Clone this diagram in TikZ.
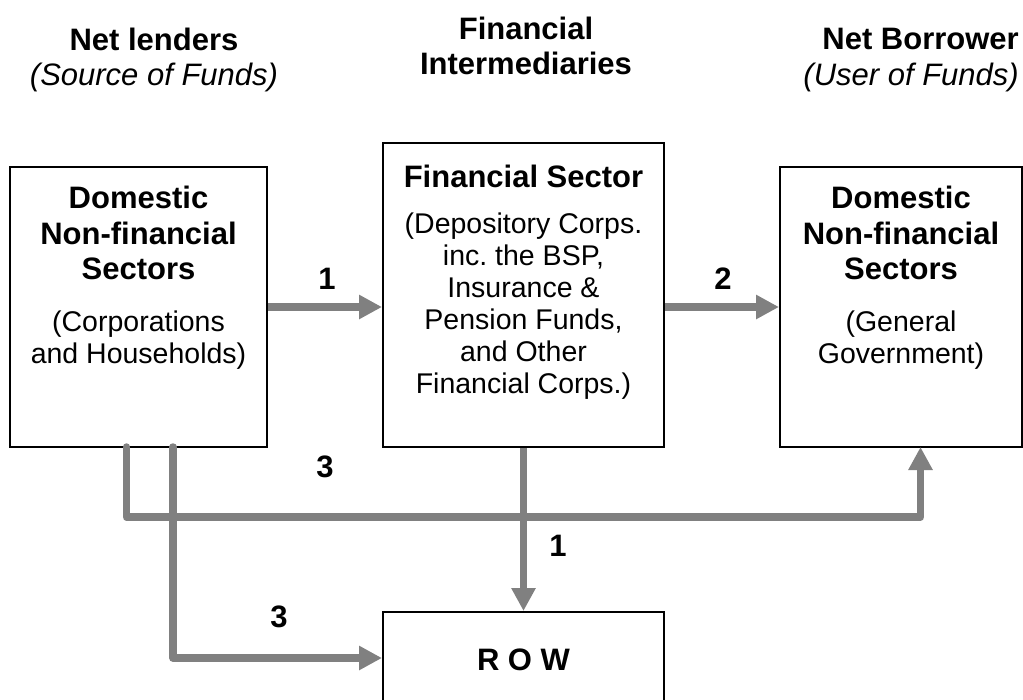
\documentclass[tikz,border=0pt]{standalone}
\usepackage{fontspec}
\setmainfont{Liberation Sans}
\usepackage{tikz}
\usetikzlibrary{arrows.meta,calc}
\usepackage{xcolor}
\definecolor{FlowGray}{HTML}{808080}
\definecolor{BoxBlack}{HTML}{000000}
\frenchspacing

\tikzset{
  sectorbox/.style={draw=BoxBlack,line width=2pt,inner sep=0pt},
  titletext/.style={align=center,inner sep=0pt,font=\fontsize{31}{35.5}\selectfont\bfseries},
  bodytext/.style={align=center,inner sep=0pt,font=\fontsize{28.5}{31.5}\selectfont},
  flownum/.style={inner sep=0pt,font=\fontsize{31}{36}\selectfont\bfseries},
  flow/.style={FlowGray,line width=7.5pt,line join=round,-{Triangle[length=23pt,width=23pt]}}
}

\begin{document}
\begin{tikzpicture}[x=1pt,y=-1pt]
  \clip (0,0) rectangle (1023,699);
  \node[sectorbox,minimum width=257pt,minimum height=280pt] (lenders) at (138.5,307) {};
  \node[sectorbox,minimum width=281pt,minimum height=304pt] (fin) at (523.5,295) {};
  \node[sectorbox,minimum width=242pt,minimum height=280pt] (gov) at (901,307) {};
  \node[sectorbox,minimum width=281pt,minimum height=92pt] (row) at (523.5,658) {};

  \node[titletext] (lendhead) at (154,60) {Net lenders\\{\mdseries\itshape (Source of Funds)}};
  \node[titletext] (finhead) at (526,46) {Financial\\Intermediaries};
  \node[titletext,align=right,anchor=east] (borrhead) at (1019,60) {Net Borrower\\{\mdseries\itshape (User of Funds)}};

  \node[titletext] (lendtitle) at (138.5,233) {Domestic\\Non-financial\\Sectors};
  \node[bodytext] (lendbody) at (138.5,340) {(Corporations\\and Households)};
  \node[titletext] (fintitle) at (523.5,176) {Financial Sector};
  \node[bodytext,font=\fontsize{28.5}{32}\selectfont] (finbody) at (523.5,306)
    {(Depository Corps.\\inc. the BSP,\\Insurance \&\\Pension Funds,\\and Other\\Financial Corps.)};
  \node[titletext] (govtitle) at (901,233) {Domestic\\Non-financial\\Sectors};
  \node[bodytext] (govbody) at (901,340) {(General\\Government)};
  \node[titletext] (rowtitle) at (523.5,660) {R O W};

  \coordinate (outA) at (126.5,447);
  \coordinate (outB) at (173,447);
  \coordinate (busA) at (126.5,517);
  \coordinate (govin) at (920.5,447);

  \draw[flow] (lenders.east) -- (lenders.east -| fin.west);
  \draw[flow] (fin.east |- gov.west) -- (gov.west);
  \draw[flow] (fin.south) -- (row.north);
  \draw[flow,line cap=round] (outA) -- (busA) -| (govin);
  \draw[flow,line cap=round] (outB) |- (row.west);

  \node[flownum] (n1a) at (327,279) {1};
  \node[flownum] (n2) at (723,279) {2};
  \node[flownum] (n3a) at (325,467) {3};
  \node[flownum] (n1b) at (558,546) {1};
  \node[flownum] (n3b) at (279,617) {3};
\end{tikzpicture}
\end{document}
